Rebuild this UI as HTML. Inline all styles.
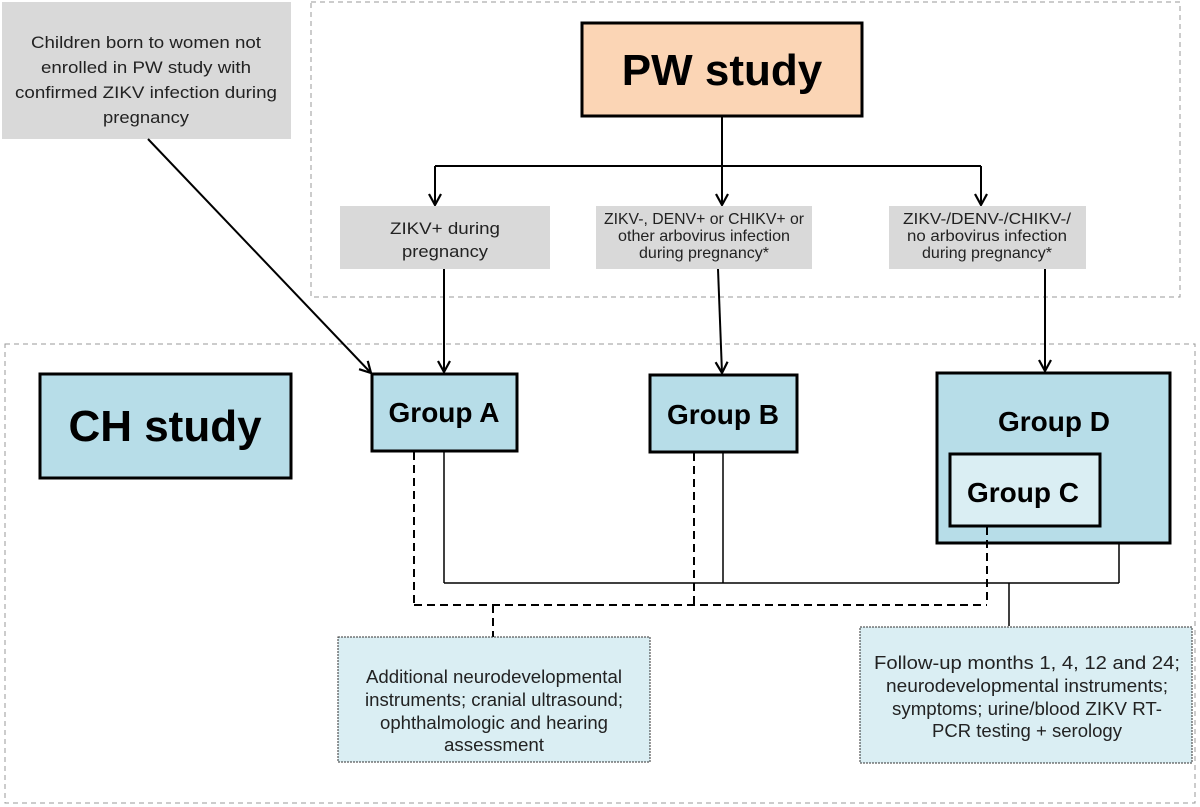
<!DOCTYPE html>
<html><head><meta charset="utf-8"><style>
html,body{margin:0;padding:0;background:#fff;}
svg{display:block;font-family:"Liberation Sans",Arial,sans-serif;}
</style></head><body>
<svg width="1200" height="807" viewBox="0 0 1200 807" xmlns="http://www.w3.org/2000/svg">
<defs>
<marker id="ar" markerWidth="16" markerHeight="16" refX="12" refY="7" orient="auto" markerUnits="userSpaceOnUse">
<path d="M1,1 L12,7 L1,13" fill="none" stroke="#000" stroke-width="2.2"/>
</marker>
</defs>
<rect x="311" y="2" width="869" height="295" fill="none" stroke="#999" stroke-width="1" stroke-dasharray="5,4"/>
<rect x="5" y="344" width="1190" height="459" fill="none" stroke="#999" stroke-width="1" stroke-dasharray="5,4"/>

<rect x="2" y="2" width="289" height="137" fill="#d9d9d9"/>
<g font-size="17" fill="#222" text-anchor="middle">
<text x="146" y="48" textLength="230" lengthAdjust="spacingAndGlyphs">Children born to women not</text>
<text x="146" y="73" textLength="210" lengthAdjust="spacingAndGlyphs">enrolled in PW study with</text>
<text x="146" y="98" textLength="262" lengthAdjust="spacingAndGlyphs">confirmed ZIKV infection during</text>
<text x="146" y="123" textLength="86" lengthAdjust="spacingAndGlyphs">pregnancy</text>
</g>

<rect x="582" y="23" width="280" height="93" fill="#fbd5b5" stroke="#000" stroke-width="3"/>
<text x="722" y="85" font-size="44" font-weight="bold" text-anchor="middle">PW study</text>

<g stroke="#000" stroke-width="2" fill="none">
<line x1="722" y1="116" x2="722" y2="166"/>
<line x1="435" y1="166" x2="981" y2="166"/>
<line x1="435" y1="166" x2="435" y2="205" marker-end="url(#ar)"/>
<line x1="722" y1="166" x2="722" y2="205" marker-end="url(#ar)"/>
<line x1="981" y1="166" x2="981" y2="205" marker-end="url(#ar)"/>
</g>

<rect x="340" y="206" width="210" height="63" fill="#d9d9d9"/>
<rect x="596" y="206" width="216" height="63" fill="#d9d9d9"/>
<rect x="889" y="206" width="197" height="63" fill="#d9d9d9"/>
<g font-size="17" fill="#222" text-anchor="middle">
<text x="445" y="234" textLength="110" lengthAdjust="spacingAndGlyphs">ZIKV+ during</text>
<text x="445" y="257" textLength="86" lengthAdjust="spacingAndGlyphs">pregnancy</text>
</g>
<g font-size="16" fill="#222" text-anchor="middle">
<text x="704" y="224" textLength="200" lengthAdjust="spacingAndGlyphs">ZIKV-, DENV+ or CHIKV+ or</text>
<text x="704" y="241" textLength="172" lengthAdjust="spacingAndGlyphs">other arbovirus infection</text>
<text x="704" y="258" textLength="130" lengthAdjust="spacingAndGlyphs">during pregnancy*</text>
<text x="987" y="224" textLength="168" lengthAdjust="spacingAndGlyphs">ZIKV-/DENV-/CHIKV-/</text>
<text x="987" y="241" textLength="160" lengthAdjust="spacingAndGlyphs">no arbovirus infection</text>
<text x="987" y="258" textLength="130" lengthAdjust="spacingAndGlyphs">during pregnancy*</text>
</g>

<g stroke="#000" stroke-width="2" fill="none">
<line x1="148" y1="139" x2="371" y2="373" marker-end="url(#ar)"/>
<line x1="444" y1="269" x2="444" y2="372" marker-end="url(#ar)"/>
<line x1="718" y1="269" x2="722" y2="373" marker-end="url(#ar)"/>
<line x1="1045" y1="269" x2="1045" y2="371" marker-end="url(#ar)"/>
</g>

<rect x="40" y="374" width="251" height="104" fill="#b7dde8" stroke="#000" stroke-width="3"/>
<text x="165" y="441" font-size="44" font-weight="bold" text-anchor="middle">CH study</text>

<rect x="372" y="374" width="145" height="77" fill="#b7dde8" stroke="#000" stroke-width="3"/>
<text x="444" y="422" font-size="28" font-weight="bold" text-anchor="middle">Group A</text>
<rect x="650" y="375" width="147" height="77" fill="#b7dde8" stroke="#000" stroke-width="3"/>
<text x="723" y="424" font-size="28" font-weight="bold" text-anchor="middle">Group B</text>
<rect x="937" y="373" width="233" height="170" fill="#b7dde8" stroke="#000" stroke-width="3"/>
<text x="1054" y="431" font-size="28" font-weight="bold" text-anchor="middle">Group D</text>
<rect x="950" y="454" width="150" height="72" fill="#daeef3" stroke="#000" stroke-width="3"/>
<text x="1023" y="502" font-size="28" font-weight="bold" text-anchor="middle">Group C</text>

<g stroke="#000" stroke-width="1.5" fill="none">
<line x1="444" y1="452" x2="444" y2="583"/>
<line x1="723" y1="453" x2="723" y2="583"/>
<line x1="1119" y1="543" x2="1119" y2="583"/>
<line x1="444" y1="583" x2="1119" y2="583"/>
<line x1="1009" y1="583" x2="1009" y2="626"/>
</g>
<g stroke="#000" stroke-width="2" fill="none" stroke-dasharray="8,5">
<line x1="414" y1="452" x2="414" y2="605"/>
<line x1="694" y1="453" x2="694" y2="605"/>
<line x1="987" y1="527" x2="987" y2="605"/>
<line x1="414" y1="605" x2="987" y2="605"/>
<line x1="493" y1="605" x2="493" y2="637"/>
</g>

<rect x="338" y="637" width="312" height="125" fill="#daeef3" stroke="#333" stroke-width="1" stroke-dasharray="2,1"/>
<g font-size="18" fill="#222" text-anchor="middle">
<text x="494" y="683" textLength="256" lengthAdjust="spacingAndGlyphs">Additional neurodevelopmental</text>
<text x="494" y="706" textLength="258" lengthAdjust="spacingAndGlyphs">instruments; cranial ultrasound;</text>
<text x="494" y="729" textLength="228" lengthAdjust="spacingAndGlyphs">ophthalmologic and hearing</text>
<text x="494" y="751" textLength="100" lengthAdjust="spacingAndGlyphs">assessment</text>
</g>
<rect x="860" y="627" width="332" height="136" fill="#daeef3" stroke="#333" stroke-width="1" stroke-dasharray="2,1"/>
<g font-size="18" fill="#222" text-anchor="middle">
<text x="1027" y="669" textLength="306" lengthAdjust="spacingAndGlyphs">Follow-up months 1, 4, 12 and 24;</text>
<text x="1027" y="692" textLength="282" lengthAdjust="spacingAndGlyphs">neurodevelopmental instruments;</text>
<text x="1027" y="715" textLength="270" lengthAdjust="spacingAndGlyphs">symptoms; urine/blood ZIKV RT-</text>
<text x="1027" y="737" textLength="190" lengthAdjust="spacingAndGlyphs">PCR testing + serology</text>
</g>
</svg>
</body></html>
